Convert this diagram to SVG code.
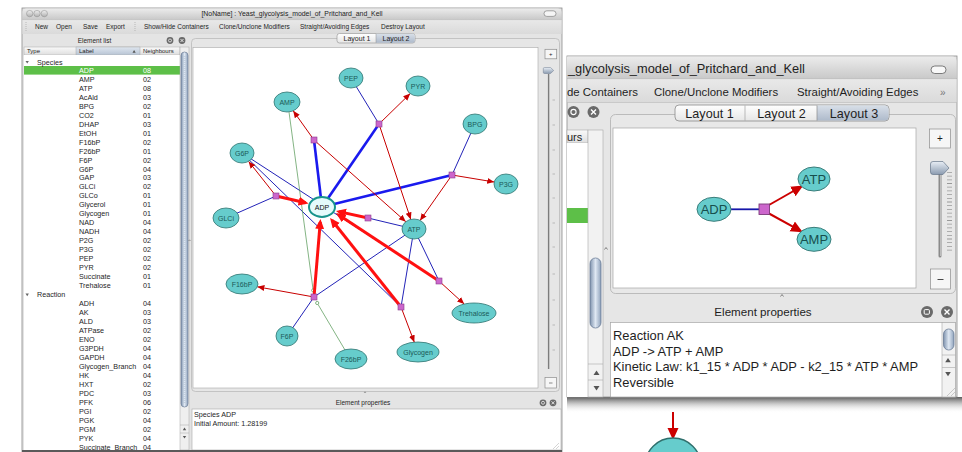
<svg xmlns="http://www.w3.org/2000/svg" width="962" height="452" viewBox="0 0 962 452">
<defs>
  <style>
    .ui{font-family:"Liberation Sans",Arial,sans-serif;fill:#1e1e1e}
    .tb{font-size:6.5px}
    .lst{font-size:7.2px}
    .big{font-size:12.9px}
    .node ellipse{fill:#66cccc;stroke:#2e7470;stroke-width:0.8}
    .node text{font-family:"Liberation Sans",Arial,sans-serif;font-size:7px;fill:#1b5a58;text-anchor:middle}
    .node2 ellipse{fill:#66cccc;stroke:#3a7d7a;stroke-width:1}
    .node2 text{font-family:"Liberation Sans",Arial,sans-serif;font-size:13px;fill:#174f4d;text-anchor:middle}
    .rx{fill:#cc66cc;stroke:#8a3d8a;stroke-width:0.6}
    .sub{stroke:#2323b8;stroke-width:1;fill:none}
    .subk{stroke:#1a1aee;stroke-width:2.6;fill:none}
    .prd{stroke:#c80000;stroke-width:1;fill:none;marker-end:url(#ah)}
    .prdk{stroke:#ff1010;stroke-width:3;fill:none;marker-end:url(#ahk)}
    .mod{stroke:#4f944f;stroke-width:0.7;fill:none}
    .modc{fill:#fff;stroke:#4f944f;stroke-width:0.7}
    .btn{fill:#f6f6f6;stroke:#8d8d8d;stroke-width:0.7}
    .ico{fill:#6a6a6a}
  </style>
  <linearGradient id="titleGrad" x1="0" y1="0" x2="0" y2="1">
    <stop offset="0" stop-color="#ececec"/>
    <stop offset="1" stop-color="#c9c9c9"/>
  </linearGradient>
  <linearGradient id="barGrad" x1="0" y1="0" x2="0" y2="1">
    <stop offset="0" stop-color="#e9e9e9"/>
    <stop offset="1" stop-color="#dadada"/>
  </linearGradient>
  <linearGradient id="headGrad" x1="0" y1="0" x2="0" y2="1">
    <stop offset="0" stop-color="#fafafa"/>
    <stop offset="1" stop-color="#dedede"/>
  </linearGradient>
  <linearGradient id="sortGrad" x1="0" y1="0" x2="0" y2="1">
    <stop offset="0" stop-color="#dfe6ef"/>
    <stop offset="1" stop-color="#b7c4d4"/>
  </linearGradient>
  <linearGradient id="tabGrad" x1="0" y1="0" x2="0" y2="1">
    <stop offset="0" stop-color="#ffffff"/>
    <stop offset="1" stop-color="#e6e6e6"/>
  </linearGradient>
  <linearGradient id="tabSel" x1="0" y1="0" x2="0" y2="1">
    <stop offset="0" stop-color="#d8dfe8"/>
    <stop offset="1" stop-color="#aebacb"/>
  </linearGradient>
  <linearGradient id="thumbGrad" x1="0" y1="0" x2="1" y2="0">
    <stop offset="0" stop-color="#7f93ae"/>
    <stop offset="0.5" stop-color="#dfe8f3"/>
    <stop offset="1" stop-color="#8fa2bb"/>
  </linearGradient>
  <linearGradient id="knobGrad" x1="0" y1="0" x2="0" y2="1">
    <stop offset="0" stop-color="#e8eef5"/>
    <stop offset="1" stop-color="#8b9bb0"/>
  </linearGradient>
  <linearGradient id="shadowGrad" x1="0" y1="0" x2="0" y2="1">
    <stop offset="0" stop-color="#3c3c3c" stop-opacity="0.85"/>
    <stop offset="1" stop-color="#ffffff" stop-opacity="0"/>
  </linearGradient>
  <linearGradient id="lightGrad" x1="0" y1="0" x2="0" y2="1">
    <stop offset="0" stop-color="#f0f0f0"/>
    <stop offset="1" stop-color="#b0b0b0"/>
  </linearGradient>
  <marker id="ah" markerUnits="userSpaceOnUse" markerWidth="8" markerHeight="7" refX="7" refY="3" orient="auto">
    <path d="M0,0 L7,3 L0,6 z" fill="#c80000"/>
  </marker>
  <marker id="ahk" markerUnits="userSpaceOnUse" markerWidth="11" markerHeight="10" refX="7" refY="4.5" orient="auto">
    <path d="M0,0 L10,4.5 L0,9 z" fill="#ff1010"/>
  </marker>
  <marker id="ahb" markerUnits="userSpaceOnUse" markerWidth="14" markerHeight="12" refX="10" refY="5.5" orient="auto">
    <path d="M0,0 L12,5.5 L0,11 z" fill="#cc0000"/>
  </marker>
</defs>

<rect x="0" y="0" width="962" height="452" fill="#ffffff"/>

<!-- ============ Main editor window ============ -->
<g id="main-window">
  <rect x="22" y="8" width="540" height="444" fill="#e4e4e4" stroke="#8c8c8c" stroke-width="0.8"/>
  <path d="M22.4,19.5 V12 a4,4 0 0 1 4,-3.6 H557.6 a4,4 0 0 1 4,3.6 V19.5 z" fill="url(#titleGrad)"/>
  <circle cx="29.7" cy="13.6" r="3.2" fill="url(#lightGrad)" stroke="#8a8a8a" stroke-width="0.5"/>
  <circle cx="37" cy="13.6" r="3.2" fill="url(#lightGrad)" stroke="#8a8a8a" stroke-width="0.5"/>
  <circle cx="44.3" cy="13.6" r="3.2" fill="url(#lightGrad)" stroke="#8a8a8a" stroke-width="0.5"/>
  <rect x="544" y="10.8" width="12" height="5.6" rx="2.8" fill="#f5f5f5" stroke="#6f6f6f" stroke-width="0.6"/>
  <text class="ui" x="292" y="16.2" font-size="6.9" text-anchor="middle">[NoName] : Yeast_glycolysis_model_of_Pritchard_and_Kell</text>

  <!-- toolbar -->
  <rect x="22.4" y="19.5" width="539.2" height="14.5" fill="url(#barGrad)"/>
  <line x1="22.4" y1="19.6" x2="561.6" y2="19.6" stroke="#a8a8a8" stroke-width="0.5"/>
  <line x1="26" y1="22" x2="26" y2="32" stroke="#a0a0a0" stroke-width="0.8" stroke-dasharray="0.8 1.2"/>
  <line x1="135" y1="22" x2="135" y2="32" stroke="#a0a0a0" stroke-width="0.8" stroke-dasharray="0.8 1.2"/>
  <text class="ui tb" y="29.2"><tspan x="35">New</tspan><tspan x="56">Open</tspan><tspan x="83">Save</tspan><tspan x="106">Export</tspan><tspan x="144">Show/Hide Containers</tspan><tspan x="219">Clone/Unclone Modifiers</tspan><tspan x="300">Straight/Avoiding Edges</tspan><tspan x="381">Destroy Layout</tspan></text>

  <!-- element list panel -->
  <text class="ui tb" x="94.5" y="43" text-anchor="middle">Element list</text>
  <circle class="ico" cx="170" cy="40.5" r="3.4"/>
  <circle cx="170" cy="40.5" r="1.5" fill="none" stroke="#fff" stroke-width="0.7"/>
  <circle class="ico" cx="182" cy="40.5" r="3.4"/>
  <path d="M180.5,39 l3,3 M183.5,39 l-3,3" stroke="#fff" stroke-width="0.8"/>

  <rect x="24" y="47" width="156" height="8" fill="url(#headGrad)" stroke="#a8a8a8" stroke-width="0.5"/>
  <rect x="76" y="47" width="64" height="8" fill="url(#sortGrad)" stroke="#a8a8a8" stroke-width="0.5"/>
  <text class="ui" font-size="6" y="53.3"><tspan x="27">Type</tspan><tspan x="79">Label</tspan><tspan x="143">Neighbours</tspan></text>
  <path d="M132.5,52.8 l1.6,-2.8 l1.6,2.8 z" fill="#555"/>
  <rect x="24" y="55" width="156" height="395" fill="#ffffff"/>
  <rect x="24" y="66" width="156" height="8.6" fill="#5dbf48"/>
  <path d="M25.5,61 h3.4 l-1.7,2.6 z" fill="#666"/>
  <path d="M25.5,293.6 h3.4 l-1.7,2.6 z" fill="#666"/>
  <text class="ui lst" x="37" y="64.6">Species</text>
  <text class="ui lst" x="37" y="297.1">Reaction</text>
  <text class="ui lst" y="72.9" fill="#ffffff" style="fill:#ffffff"><tspan x="79">ADP</tspan><tspan x="143">08</tspan></text>
  <text class="ui lst">
    <tspan x="79" y="81.8">AMP</tspan><tspan x="143" y="81.8">02</tspan>
    <tspan x="79" y="90.7">ATP</tspan><tspan x="143" y="90.7">08</tspan>
    <tspan x="79" y="99.7">AcAld</tspan><tspan x="143" y="99.7">03</tspan>
    <tspan x="79" y="108.7">BPG</tspan><tspan x="143" y="108.7">02</tspan>
    <tspan x="79" y="117.6">CO2</tspan><tspan x="143" y="117.6">01</tspan>
    <tspan x="79" y="126.6">DHAP</tspan><tspan x="143" y="126.6">03</tspan>
    <tspan x="79" y="135.6">EtOH</tspan><tspan x="143" y="135.6">01</tspan>
    <tspan x="79" y="144.6">F16bP</tspan><tspan x="143" y="144.6">02</tspan>
    <tspan x="79" y="153.5">F26bP</tspan><tspan x="143" y="153.5">01</tspan>
    <tspan x="79" y="162.5">F6P</tspan><tspan x="143" y="162.5">02</tspan>
    <tspan x="79" y="171.5">G6P</tspan><tspan x="143" y="171.5">04</tspan>
    <tspan x="79" y="180.4">GAP</tspan><tspan x="143" y="180.4">03</tspan>
    <tspan x="79" y="189.4">GLCi</tspan><tspan x="143" y="189.4">02</tspan>
    <tspan x="79" y="198.4">GLCo</tspan><tspan x="143" y="198.4">01</tspan>
    <tspan x="79" y="207.4">Glycerol</tspan><tspan x="143" y="207.4">01</tspan>
    <tspan x="79" y="216.3">Glycogen</tspan><tspan x="143" y="216.3">01</tspan>
    <tspan x="79" y="225.3">NAD</tspan><tspan x="143" y="225.3">04</tspan>
    <tspan x="79" y="234.3">NADH</tspan><tspan x="143" y="234.3">04</tspan>
    <tspan x="79" y="243.2">P2G</tspan><tspan x="143" y="243.2">02</tspan>
    <tspan x="79" y="252.2">P3G</tspan><tspan x="143" y="252.2">02</tspan>
    <tspan x="79" y="261.2">PEP</tspan><tspan x="143" y="261.2">02</tspan>
    <tspan x="79" y="270.1">PYR</tspan><tspan x="143" y="270.1">02</tspan>
    <tspan x="79" y="279.1">Succinate</tspan><tspan x="143" y="279.1">01</tspan>
    <tspan x="79" y="288.1">Trehalose</tspan><tspan x="143" y="288.1">01</tspan>
    <tspan x="79" y="306">ADH</tspan><tspan x="143" y="306">04</tspan>
    <tspan x="79" y="315">AK</tspan><tspan x="143" y="315">03</tspan>
    <tspan x="79" y="324">ALD</tspan><tspan x="143" y="324">03</tspan>
    <tspan x="79" y="333">ATPase</tspan><tspan x="143" y="333">02</tspan>
    <tspan x="79" y="341.9">ENO</tspan><tspan x="143" y="341.9">02</tspan>
    <tspan x="79" y="350.9">G3PDH</tspan><tspan x="143" y="350.9">04</tspan>
    <tspan x="79" y="359.9">GAPDH</tspan><tspan x="143" y="359.9">04</tspan>
    <tspan x="79" y="368.8">Glycogen_Branch</tspan><tspan x="143" y="368.8">04</tspan>
    <tspan x="79" y="377.8">HK</tspan><tspan x="143" y="377.8">04</tspan>
    <tspan x="79" y="386.8">HXT</tspan><tspan x="143" y="386.8">02</tspan>
    <tspan x="79" y="395.7">PDC</tspan><tspan x="143" y="395.7">03</tspan>
    <tspan x="79" y="404.7">PFK</tspan><tspan x="143" y="404.7">06</tspan>
    <tspan x="79" y="413.7">PGI</tspan><tspan x="143" y="413.7">02</tspan>
    <tspan x="79" y="422.6">PGK</tspan><tspan x="143" y="422.6">04</tspan>
    <tspan x="79" y="431.6">PGM</tspan><tspan x="143" y="431.6">02</tspan>
    <tspan x="79" y="440.6">PYK</tspan><tspan x="143" y="440.6">04</tspan>
    <tspan x="79" y="449.5">Succinate_Branch</tspan><tspan x="143" y="449.5">04</tspan>
  </text>

  <!-- list scrollbar -->
  <rect x="180" y="47" width="9" height="403" fill="#efefef" stroke="#a6a6a6" stroke-width="0.5"/>
  <rect x="181" y="52" width="7" height="355" rx="3.5" fill="url(#thumbGrad)" stroke="#5f718c" stroke-width="0.6"/>
  <line x1="184.5" y1="56" x2="184.5" y2="403" stroke="#b9c6d8" stroke-width="2" stroke-dasharray="0.8 1.2"/>
  <line x1="180" y1="425" x2="189" y2="425" stroke="#a6a6a6" stroke-width="0.5"/>
  <path d="M182.8,430.2 h3.4 l-1.7,-2.6 z" fill="#555"/>
  <line x1="180" y1="433" x2="189" y2="433" stroke="#a6a6a6" stroke-width="0.5"/>
  <path d="M182.8,436 h3.4 l-1.7,2.6 z" fill="#555"/>
  <path d="M188.5,241 l1,-1.2 l1,1.2" stroke="#555" stroke-width="0.5" fill="none"/>

  <!-- layout panel frame and tabs -->
  <rect x="191.5" y="38.5" width="368" height="353" rx="4" fill="#e6e6e6" stroke="#b4b4b4" stroke-width="0.7"/>
  <rect x="193" y="47.5" width="345" height="340.5" fill="#ffffff" stroke="#a9a9a9" stroke-width="0.6"/>
  <rect x="337" y="33.5" width="78" height="9.5" rx="2.5" fill="url(#tabGrad)" stroke="#8f8f8f" stroke-width="0.6"/>
  <path d="M376,33.8 H412.5 a2.3,2.3 0 0 1 2.3,2.3 V40.5 a2.3,2.3 0 0 1 -2.3,2.3 H376 z" fill="url(#tabSel)"/>
  <line x1="376" y1="33.8" x2="376" y2="42.8" stroke="#8f8f8f" stroke-width="0.5"/>
  <text class="ui" font-size="7" y="40.8" text-anchor="middle"><tspan x="357">Layout 1</tspan><tspan x="396">Layout 2</tspan></text>

  <!-- zoom slider -->
  <rect class="btn" x="545" y="49.3" width="11.7" height="9.5"/>
  <text class="ui" font-size="6" x="550.8" y="56.2" text-anchor="middle">+</text>
  <line x1="548.6" y1="74" x2="548.6" y2="369" stroke="#7d7d7d" stroke-width="1.4"/>
  <path d="M544.5,67.5 h6 l3.2,3 l-3.2,3 h-6 a1.2,1.2 0 0 1 -1.2,-1.2 v-3.6 a1.2,1.2 0 0 1 1.2,-1.2 z" fill="url(#knobGrad)" stroke="#6d7b8e" stroke-width="0.5"/>
  <line x1="553.5" y1="100" x2="553.5" y2="351" stroke="#9a9a9a" stroke-width="0.6" stroke-dasharray="0 25"/>
  <g stroke="#9a9a9a" stroke-width="0.6">
    <line x1="552.5" y1="100" x2="555" y2="100"/><line x1="552.5" y1="125" x2="555" y2="125"/>
    <line x1="552.5" y1="150" x2="555" y2="150"/><line x1="552.5" y1="174" x2="555" y2="174"/>
    <line x1="552.5" y1="198" x2="555" y2="198"/><line x1="552.5" y1="223" x2="555" y2="223"/>
    <line x1="552.5" y1="247" x2="555" y2="247"/><line x1="552.5" y1="274" x2="555" y2="274"/>
    <line x1="552.5" y1="300" x2="555" y2="300"/><line x1="552.5" y1="325" x2="555" y2="325"/>
    <line x1="552.5" y1="350" x2="555" y2="350"/>
  </g>
  <rect class="btn" x="545" y="377.5" width="11.5" height="10.5"/>
  <line x1="549" y1="383" x2="552.5" y2="383" stroke="#444" stroke-width="0.6"/>
  <path d="M364,393 l1,-1.2 l1,1.2" stroke="#555" stroke-width="0.5" fill="none"/>

  <!-- element properties -->
  <text class="ui tb" x="363" y="404.6" text-anchor="middle">Element properties</text>
  <circle class="ico" cx="543" cy="402.8" r="3.4"/>
  <circle cx="543" cy="402.8" r="1.5" fill="none" stroke="#fff" stroke-width="0.7"/>
  <circle class="ico" cx="553" cy="402.8" r="3.4"/>
  <path d="M551.5,401.3 l3,3 M554.5,401.3 l-3,3" stroke="#fff" stroke-width="0.8"/>
  <rect x="192" y="409" width="369" height="41" fill="#ffffff" stroke="#a9a9a9" stroke-width="0.6"/>
  <text class="ui lst"><tspan x="194" y="416.6">Species ADP</tspan><tspan x="194" y="425.6">Initial Amount: 1.28199</tspan></text>
  <path d="M553,449 l6,-6 M556,449 l3,-3" stroke="#aaa" stroke-width="0.5"/>
  <rect x="22" y="450" width="540" height="2" fill="#5a5a5a"/>
</g>

<!-- ============ Main layout graph ============ -->
<g id="connectors">
  <!-- substrate edges -->
  <line class="sub" x1="351" y1="78" x2="379" y2="124"/>
  <line class="sub" x1="475" y1="124" x2="452" y2="175"/>
  <line class="sub" x1="226" y1="218" x2="276" y2="196"/>
  <line class="sub" x1="242" y1="153" x2="439" y2="281"/>
  <line class="sub" x1="242" y1="153" x2="401" y2="307"/>
  <line class="sub" x1="414" y1="229" x2="368" y2="218"/>
  <line class="sub" x1="414" y1="229" x2="314" y2="297"/>
  <line class="sub" x1="414" y1="229" x2="401" y2="307"/>
  <line class="sub" x1="414" y1="229" x2="439" y2="281"/>
  <line class="sub" x1="287" y1="336" x2="314" y2="297"/>
  <line class="subk" x1="322" y1="207" x2="379" y2="124"/>
  <line class="subk" x1="322" y1="207" x2="314" y2="140"/>
  <line class="subk" x1="322" y1="207" x2="452" y2="175"/>
  <!-- modifier edges -->
  <line class="mod" x1="289" y1="112" x2="313" y2="289"/>
  <circle class="modc" cx="313.2" cy="290.4" r="1.6"/>
  <line class="mod" x1="345" y1="350" x2="318" y2="304.4"/>
  <circle class="modc" cx="317.2" cy="303" r="1.6"/>
  <!-- product edges -->
  <line class="prd" x1="379" y1="124" x2="410.2" y2="93.6"/>
  <line class="prd" x1="379" y1="124" x2="410.8" y2="219.4"/>
  <line class="prd" x1="314" y1="140" x2="293.2" y2="110.8"/>
  <line class="prd" x1="314" y1="140" x2="405.8" y2="221.7"/>
  <line class="prd" x1="452" y1="175" x2="494.2" y2="182"/>
  <line class="prd" x1="452" y1="175" x2="420.1" y2="220.4"/>
  <line class="prd" x1="276" y1="196" x2="248.6" y2="161.4"/>
  <line class="prd" x1="314" y1="297" x2="257.4" y2="286.8"/>
  <line class="prd" x1="401" y1="307" x2="414.3" y2="342.2"/>
  <line class="prd" x1="439" y1="281" x2="464.2" y2="304"/>
  <line class="prdk" x1="276" y1="196" x2="305.6" y2="202.8"/>
  <line class="prdk" x1="368" y1="218" x2="338.9" y2="211.6"/>
  <line class="prdk" x1="314" y1="297" x2="320.25" y2="222"/>
  <line class="prdk" x1="401" y1="307" x2="331.9" y2="220.3"/>
  <line class="prdk" x1="439" y1="281" x2="338.5" y2="214.7"/>
</g>

<g id="rx-pyk"><rect class="rx" x="376" y="121" width="6" height="6"/></g>
<g id="rx-ak"><rect class="rx" x="311" y="137" width="6" height="6"/></g>
<g id="rx-pgk"><rect class="rx" x="449" y="172" width="6" height="6"/></g>
<g id="rx-hk"><rect class="rx" x="273" y="193" width="6" height="6"/></g>
<g id="rx-atpase"><rect class="rx" x="365" y="215" width="6" height="6"/></g>
<g id="rx-pfk"><rect class="rx" x="311" y="294" width="6" height="6"/></g>
<g id="rx-glycogen"><rect class="rx" x="398" y="304" width="6" height="6"/></g>
<g id="rx-trehalose"><rect class="rx" x="436" y="278" width="6" height="6"/></g>

<g id="n-PEP" class="node"><ellipse cx="351" cy="78" rx="12" ry="10"/><text x="351" y="80.5">PEP</text></g>
<g id="n-PYR" class="node"><ellipse cx="418" cy="86" rx="12" ry="10"/><text x="418" y="88.5">PYR</text></g>
<g id="n-AMP" class="node"><ellipse cx="287" cy="102" rx="13" ry="10"/><text x="287" y="104.5">AMP</text></g>
<g id="n-BPG" class="node"><ellipse cx="475" cy="124" rx="12" ry="10"/><text x="475" y="126.5">BPG</text></g>
<g id="n-G6P" class="node"><ellipse cx="242" cy="153" rx="12" ry="10"/><text x="242" y="155.5">G6P</text></g>
<g id="n-P3G" class="node"><ellipse cx="506" cy="184" rx="12" ry="10"/><text x="506" y="186.5">P3G</text></g>
<g id="n-GLCi" class="node"><ellipse cx="226" cy="218" rx="13" ry="10"/><text x="226" y="220.5">GLCi</text></g>
<g id="n-ATP" class="node"><ellipse cx="414" cy="229" rx="12" ry="10"/><text x="414" y="231.5">ATP</text></g>
<g id="n-F16bP" class="node"><ellipse cx="242" cy="284" rx="16" ry="10"/><text x="242" y="286.5">F16bP</text></g>
<g id="n-F6P" class="node"><ellipse cx="287" cy="336" rx="11" ry="10"/><text x="287" y="338.5">F6P</text></g>
<g id="n-F26bP" class="node"><ellipse cx="351" cy="359" rx="16" ry="10"/><text x="351" y="361.5">F26bP</text></g>
<g id="n-Glycogen" class="node"><ellipse cx="418" cy="352" rx="21" ry="10"/><text x="418" y="354.5">Glycogen</text></g>
<g id="n-Trehalose" class="node"><ellipse cx="474" cy="313" rx="22" ry="10"/><text x="474" y="315.5">Trehalose</text></g>
<g id="n-ADP" class="node"><ellipse cx="322" cy="207" rx="13" ry="10" style="fill:#e4fbfb;stroke:#17948c;stroke-width:2"/><text x="322" y="209.5" style="fill:#111">ADP</text></g>

<!-- ============ Layout 3 window ============ -->
<g id="layout3-window">
  <rect x="567" y="397" width="395" height="16" fill="url(#shadowGrad)"/>
  <rect x="567" y="56" width="390" height="341" fill="#e6e6e6" stroke="#8c8c8c" stroke-width="0.8"/>
  <path d="M567,78.5 V56.4 H952 a4.5,4.5 0 0 1 4.6,4.5 V78.5 z" fill="url(#titleGrad)"/>
  <text class="ui" font-size="12.8" x="568" y="72.8">_glycolysis_model_of_Pritchard_and_Kell</text>
  <rect x="931" y="66" width="15" height="7.5" rx="3.75" fill="#f8f8f8" stroke="#5e5e5e" stroke-width="0.8"/>
  <rect x="567.4" y="78.5" width="389.2" height="24" fill="url(#barGrad)"/>
  <line x1="567" y1="78.6" x2="957" y2="78.6" stroke="#a8a8a8" stroke-width="0.6"/>
  <line x1="567" y1="102.5" x2="957" y2="102.5" stroke="#b8b8b8" stroke-width="0.6"/>
  <text class="ui" font-size="11.4" y="96"><tspan x="567">de Containers</tspan><tspan x="654">Clone/Unclone Modifiers</tspan><tspan x="797">Straight/Avoiding Edges</tspan></text>
  <text class="ui" font-size="10" x="940" y="95.5" style="fill:#777">»</text>

  <circle class="ico" cx="573.5" cy="112" r="6"/>
  <circle cx="573.5" cy="112" r="2.6" fill="none" stroke="#fff" stroke-width="1.1"/>
  <circle class="ico" cx="593.5" cy="112" r="6"/>
  <path d="M591,109.5 l5,5 M596,109.5 l-5,5" stroke="#fff" stroke-width="1.4"/>

  <!-- element list strip -->
  <rect x="567" y="130" width="21" height="13" fill="url(#headGrad)" stroke="#a8a8a8" stroke-width="0.6"/>
  <text class="ui" font-size="11" x="567" y="140.5">urs</text>
  <rect x="567" y="143" width="21" height="254" fill="#ffffff"/>
  <rect x="567" y="208" width="21" height="15" fill="#5dbf48"/>
  <rect x="588" y="130" width="15" height="267" fill="#f2f2f2" stroke="#a8a8a8" stroke-width="0.6"/>
  <rect x="590" y="258" width="11" height="70" rx="5.5" fill="url(#thumbGrad)" stroke="#5f718c" stroke-width="0.7"/>
  <line x1="588" y1="364" x2="603" y2="364" stroke="#a8a8a8" stroke-width="0.6"/>
  <path d="M593.5,375 h6 l-3,-4.5 z" fill="#555"/>
  <line x1="588" y1="380" x2="603" y2="380" stroke="#a8a8a8" stroke-width="0.6"/>
  <path d="M593.5,386 h6 l-3,4.5 z" fill="#555"/>
  <path d="M604.5,249.5 l1.5,-2 l1.5,2" stroke="#555" stroke-width="0.7" fill="none"/>

  <!-- layout panel -->
  <rect x="610.5" y="114.5" width="345" height="179" rx="5" fill="#e8e8e8" stroke="#b0b0b0" stroke-width="0.8"/>
  <rect x="613" y="128" width="303" height="160" fill="#ffffff" stroke="#a5a5a5" stroke-width="0.7"/>
  <rect x="675" y="105" width="214" height="16" rx="4" fill="url(#tabGrad)" stroke="#8a8a8a" stroke-width="0.8"/>
  <path d="M817,105.4 H884.6 a4,4 0 0 1 4,4 V116.6 a4,4 0 0 1 -4,4 H817 z" fill="url(#tabSel)"/>
  <line x1="745" y1="105.4" x2="745" y2="120.6" stroke="#a0a0a0" stroke-width="0.7"/>
  <line x1="817" y1="105.4" x2="817" y2="120.6" stroke="#8a8a8a" stroke-width="0.7"/>
  <text class="ui" font-size="12.6" y="117.8" text-anchor="middle"><tspan x="709.5">Layout 1</tspan><tspan x="781.5">Layout 2</tspan><tspan x="854">Layout 3</tspan></text>

  <rect class="btn" x="929.5" y="129" width="21" height="19"/>
  <text class="ui" font-size="10" x="940" y="142" text-anchor="middle">+</text>
  <line x1="940" y1="172" x2="940" y2="256" stroke="#8a8a8a" stroke-width="3" stroke-linecap="round"/>
  <line x1="940.6" y1="172" x2="940.6" y2="256" stroke="#d0d0d0" stroke-width="0.8"/>
  <path d="M933,161.5 h10 l6,6.5 l-6,6.5 h-10 a2.5,2.5 0 0 1 -2.5,-2.5 v-8 a2.5,2.5 0 0 1 2.5,-2.5 z" fill="url(#knobGrad)" stroke="#66768a" stroke-width="0.7"/>
  <line x1="949.5" y1="172" x2="949.5" y2="252" stroke="#999" stroke-width="5" stroke-dasharray="0.8 2.9"/>
  <rect class="btn" x="930.5" y="269" width="20" height="20"/>
  <line x1="937.5" y1="279.5" x2="943.5" y2="279.5" stroke="#333" stroke-width="0.9"/>
  <path d="M780.5,296.5 l1.5,-2 l1.5,2" stroke="#555" stroke-width="0.7" fill="none"/>

  <!-- element properties -->
  <text class="ui" font-size="11.6" x="763" y="316" text-anchor="middle">Element properties</text>
  <circle class="ico" cx="927" cy="312" r="6"/>
  <rect x="924.2" y="309.6" width="5.2" height="4.6" rx="1" fill="none" stroke="#fff" stroke-width="1"/>
  <circle class="ico" cx="947" cy="312" r="6"/>
  <path d="M944.5,309.5 l5,5 M949.5,309.5 l-5,5" stroke="#fff" stroke-width="1.4"/>
  <rect x="610.5" y="322.5" width="345" height="74.5" fill="#ffffff" stroke="#a5a5a5" stroke-width="0.7"/>
  <rect x="942" y="322.5" width="13.5" height="74.5" fill="#f2f2f2" stroke="#a5a5a5" stroke-width="0.6"/>
  <rect x="943.5" y="329" width="10.5" height="21" rx="5.2" fill="url(#thumbGrad)" stroke="#5f718c" stroke-width="0.7"/>
  <line x1="942" y1="355" x2="955.5" y2="355" stroke="#a8a8a8" stroke-width="0.6"/>
  <path d="M945.2,362.3 h5.6 l-2.8,-4.2 z" fill="#555"/>
  <line x1="942" y1="367.5" x2="955.5" y2="367.5" stroke="#a8a8a8" stroke-width="0.6"/>
  <path d="M945.2,372 h5.6 l-2.8,4.2 z" fill="#555"/>
  <path d="M947,396 l8,-8 M951,396 l4,-4" stroke="#aaa" stroke-width="0.6"/>
  <text class="ui big" x="613" y="339.8">Reaction AK</text>
  <text class="ui big" x="613" y="355.6">ADP -&gt; ATP + AMP</text>
  <text class="ui big" x="613" y="371.4">Kinetic Law: k1_15 * ADP * ADP - k2_15 * ATP * AMP</text>
  <text class="ui big" x="613" y="387">Reversible</text>
</g>

<!-- ============ Layout 3 graph (AK reaction) ============ -->
<g id="connectors-ak">
  <line x1="731" y1="209.3" x2="759" y2="209.3" stroke="#1616aa" stroke-width="1.8"/>
  <line x1="769" y1="205" x2="801.5" y2="186.5" stroke="#cc0000" stroke-width="2" marker-end="url(#ahb)"/>
  <line x1="769" y1="213.5" x2="801" y2="231.2" stroke="#cc0000" stroke-width="2" marker-end="url(#ahb)"/>
</g>
<g id="rx-ak-l3"><rect x="759" y="204" width="10.5" height="10.5" fill="#cc66cc" stroke="#7a3a7a" stroke-width="0.9"/></g>
<g id="n3-ADP" class="node2"><ellipse cx="714" cy="209.3" rx="17" ry="12"/><text x="714" y="214">ADP</text></g>
<g id="n3-ATP" class="node2"><ellipse cx="814" cy="179" rx="16" ry="12"/><text x="814" y="183.7">ATP</text></g>
<g id="n3-AMP" class="node2"><ellipse cx="814" cy="239.3" rx="17" ry="12"/><text x="814" y="244">AMP</text></g>

<!-- node peeking in below the window -->
<g id="connector-below">
  <line x1="673" y1="412" x2="673" y2="438" stroke="#cc0000" stroke-width="2" marker-end="url(#ahb)"/>
</g>
<g id="n-below"><circle cx="673" cy="466" r="28" fill="#66cccc" stroke="#2e6f6c" stroke-width="1.4"/></g>
</svg>
